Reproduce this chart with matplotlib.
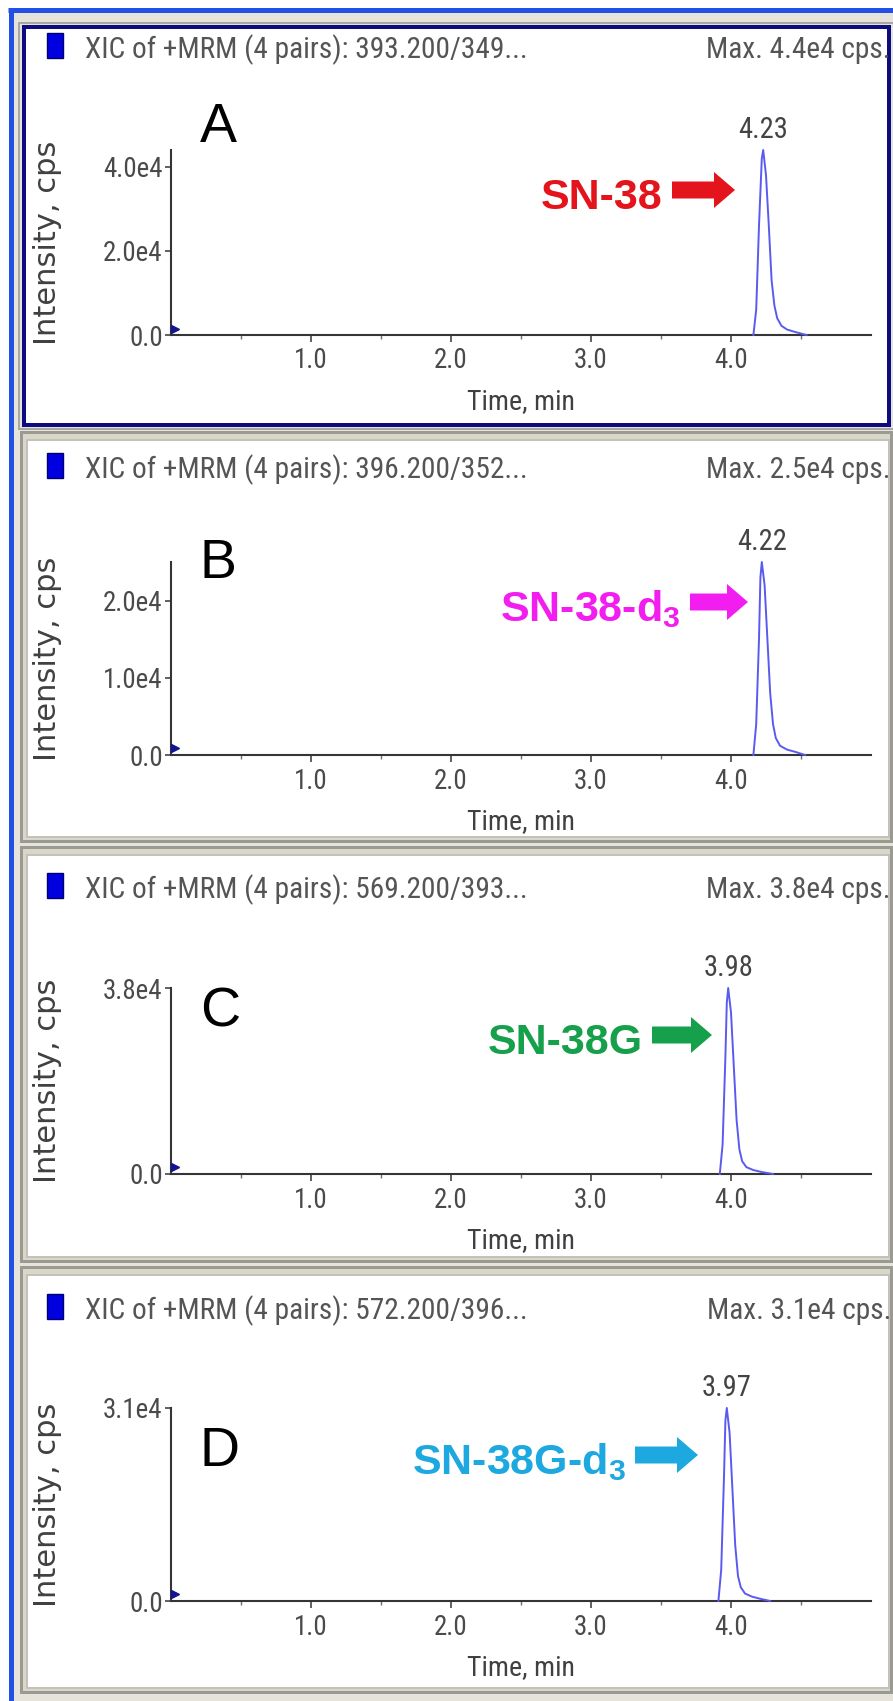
import matplotlib
matplotlib.use("Agg")
import matplotlib.pyplot as plt
from matplotlib.patches import Rectangle
from matplotlib.ticker import FixedLocator
from matplotlib import font_manager as fm

# ---------------- data ----------------
panel_letters = ["A", "B", "C", "D"]
headers = ["XIC of +MRM (4 pairs): 393.200/349...",
           "XIC of +MRM (4 pairs): 396.200/352...",
           "XIC of +MRM (4 pairs): 569.200/393...",
           "XIC of +MRM (4 pairs): 572.200/396..."]
max_labels = ["Max. 4.4e4 cps.", "Max. 2.5e4 cps.", "Max. 3.8e4 cps.", "Max. 3.1e4 cps."]
compounds = ["SN-38", r"SN-38-d$_{\mathbf{3}}$", "SN-38G", r"SN-38G-d$_{\mathbf{3}}$"]
compound_colors = ["#e3141c", "#f21ef0", "#17a04c", "#1ea8e0"]
peak_rt = [4.23, 4.22, 3.98, 3.97]
peak_max = [4.4e4, 2.5e4, 3.8e4, 3.1e4]
yticks = [[0, 2.0e4, 4.0e4], [0, 1.0e4, 2.0e4], [0, 3.8e4], [0, 3.1e4]]
ytick_labels = [["0.0", "2.0e4", "4.0e4"], ["0.0", "1.0e4", "2.0e4"], ["0.0", "3.8e4"], ["0.0", "3.1e4"]]
xticks = [1.0, 2.0, 3.0, 4.0]
xtick_labels = ["1.0", "2.0", "3.0", "4.0"]
xminor = [0.5, 1.5, 2.5, 3.5, 4.5]

rt_A = [4.16, 4.18, 4.20, 4.22, 4.23, 4.25, 4.27, 4.29, 4.31, 4.33, 4.36, 4.40, 4.46, 4.54]
int_A = [0, 6e3, 2.6e4, 4.2e4, 4.4e4, 3.8e4, 2.6e4, 1.3e4, 7e3, 4e3, 2.2e3, 1.3e3, 700, 0]
rt_B = [4.16, 4.18, 4.20, 4.21, 4.22, 4.24, 4.26, 4.28, 4.30, 4.32, 4.35, 4.40, 4.46, 4.53]
int_B = [0, 4e3, 1.5e4, 2.3e4, 2.5e4, 2.2e4, 1.5e4, 8e3, 4e3, 2.2e3, 1.2e3, 700, 400, 0]
rt_C = [3.92, 3.94, 3.96, 3.97, 3.98, 4.00, 4.02, 4.04, 4.06, 4.08, 4.11, 4.16, 4.22, 4.30]
int_C = [0, 6e3, 2.4e4, 3.5e4, 3.8e4, 3.3e4, 2.2e4, 1.1e4, 5e3, 2.6e3, 1.4e3, 800, 400, 0]
rt_D = [3.91, 3.93, 3.95, 3.96, 3.97, 3.99, 4.01, 4.03, 4.05, 4.07, 4.10, 4.15, 4.21, 4.28]
int_D = [0, 5e3, 2.0e4, 2.9e4, 3.1e4, 2.7e4, 1.8e4, 9e3, 4e3, 2.2e3, 1.2e3, 700, 350, 0]
traces = [(rt_A, int_A), (rt_B, int_B), (rt_C, int_C), (rt_D, int_D)]

# ---------------- fonts ----------------
names = {f.name for f in fm.fontManager.ttflist}
narrow = None
for cand in ["Liberation Sans Narrow", "Arial Narrow", "Roboto Condensed",
             "Open Sans Condensed", "Noto Sans Condensed", "DejaVu Sans Condensed"]:
    if cand in names:
        narrow = cand
        break
NARROW = ([narrow] if narrow else []) + ["Liberation Sans", "DejaVu Sans"]
SANS = ["Liberation Sans", "DejaVu Sans"]
plt.rcParams['font.family'] = NARROW
plt.rcParams['mathtext.fontset'] = 'custom'
plt.rcParams['mathtext.rm'] = 'Liberation Sans'
plt.rcParams['mathtext.bf'] = 'Liberation Sans:bold'

# ---------------- layout (pixels) ----------------
W, H = 893, 1701
PT = 0.72  # points per pixel at dpi 100
panel_top = [27, 432, 847, 1267]
panel_bot = [425, 841, 1261, 1692]
header_y = [50, 470, 890, 1311]
ax_top = [150, 562, 988, 1408]
ax_bot = [335, 755, 1174, 1601]
ax_left, ax_right = 171, 871
letter_y = [128, 564, 1012, 1452]
label_y = [193, 605, 1038, 1458]
arrow_x = [(672, 735), (690, 748), (652, 712), (635, 698)]

fig = plt.figure(figsize=(W / 100, H / 100), dpi=100)
fig.patch.set_facecolor("white")
renderer = fig.canvas.get_renderer()


def fitted(s, family, target_px, base=20.0):
    t = fig.text(0, 0, s, fontsize=base, family=family)
    w = t.get_window_extent(renderer).width
    t.remove()
    return base * target_px / w


fs_header = min(fitted(headers[0], NARROW, 443), 26)
fs_tick = min(fitted("4.0e4", NARROW, 60), 24)
fs_time = min(fitted("Time, min", NARROW, 108), 24)
fs_peak = min(fitted("4.23", NARROW, 50), 25)
fs_ylab = fitted("Intensity, cps", ["DejaVu Sans"], 204)

bg = fig.add_axes([0, 0, 1, 1])
bg.set_xlim(0, W)
bg.set_ylim(H, 0)
bg.axis("off")

# window background and outer blue frame
bg.add_patch(Rectangle((13, 13), W, H, facecolor="#e6e4da", edgecolor="none", zorder=0))
bg.plot([10.5, 10.5], [8, H + 5], color="#2050e6", lw=5 * PT, solid_capstyle="butt", zorder=1)
bg.plot([8, W + 5], [10, 10], color="#2050e6", lw=5 * PT, solid_capstyle="butt", zorder=1)

for i in range(4):
    t, b = panel_top[i], panel_bot[i]
    if i == 0:
        bg.add_patch(Rectangle((19, t - 4), 875, b - t + 8, facecolor="none",
                               edgecolor="#a8a8a0", lw=2 * PT, zorder=1))
        bg.add_patch(Rectangle((24, t), 865, b - t, facecolor="white",
                               edgecolor="#0c0c80", lw=4 * PT, zorder=2))
    else:
        bg.add_patch(Rectangle((21, t), 870, b - t, facecolor="#d9d6ca",
                               edgecolor="#9a9a92", lw=3 * PT, zorder=1))
        bg.add_patch(Rectangle((27, t + 8), 862, b - t - 12, facecolor="white",
                               edgecolor="#c4c2b8", lw=2 * PT, zorder=2))

    hy = header_y[i]
    bg.add_patch(Rectangle((47, hy - 17), 16, 25, facecolor="#0000e0",
                           edgecolor="#000070", lw=1, zorder=3))
    bg.text(85, hy, headers[i], fontsize=fs_header, color="#555555", ha="left",
            va="center", zorder=4)
    bg.text(891, hy, max_labels[i], fontsize=fs_header, color="#555555", ha="right",
            va="center", zorder=4)

    # panel letter
    bg.text(200, letter_y[i], panel_letters[i], fontsize=40, family=SANS,
            color="black", ha="left", va="center", zorder=4)

    # compound label and block arrow
    x0, x1 = arrow_x[i]
    yy = label_y[i]
    bg.text(x0 - 9, yy + 16, compounds[i], fontsize=31, fontweight="bold",
            family=SANS, color=compound_colors[i],
            ha="right", va="baseline", zorder=4)
    bg.arrow(x0, yy - 3, x1 - x0, 0, width=17, head_width=36, head_length=21,
             length_includes_head=True, color=compound_colors[i], lw=0, zorder=4)

    # chromatogram axes
    ax = fig.add_axes([ax_left / W, 1 - ax_bot[i] / H,
                       (ax_right - ax_left) / W, (ax_bot[i] - ax_top[i]) / H])
    ax.patch.set_visible(False)
    rt, inten = traces[i]
    ax.plot(rt, inten, color="#5a5af0", lw=1.4, clip_on=False, zorder=3)
    ax.set_xlim(0, 5.0)
    ax.set_ylim(0, peak_max[i])
    for s in ("top", "right"):
        ax.spines[s].set_visible(False)
    for s in ("left", "bottom"):
        ax.spines[s].set_color("#353535")
        ax.spines[s].set_linewidth(1.5)
    ax.set_xticks(xticks)
    ax.set_xticklabels(xtick_labels)
    ax.xaxis.set_minor_locator(FixedLocator(xminor))
    ax.set_yticks(yticks[i])
    ax.set_yticklabels(ytick_labels[i])
    ax.tick_params(axis="x", which="major", length=5, width=1.2, color="#454545",
                   labelsize=fs_tick, labelcolor="#4a4a4a", pad=4)
    ax.tick_params(axis="x", which="minor", length=3, width=1.0, color="#707070")
    ax.tick_params(axis="y", which="major", length=4, width=1.2, color="#454545",
                   labelsize=fs_tick, labelcolor="#4a4a4a", pad=2)
    ax.set_xlabel("Time, min", fontsize=fs_time, color="#404040", va="center")
    ax.xaxis.set_label_coords(0.5, -67 / (ax_bot[i] - ax_top[i]))
    ax.set_ylabel("Intensity, cps", fontsize=fs_ylab, color="#404040", va="center",
                  family=["DejaVu Sans"])
    ax.yaxis.set_label_coords((47 - ax_left) / (ax_right - ax_left), 0.5)
    ax.annotate(f"{peak_rt[i]:.2f}", xy=(peak_rt[i], peak_max[i]),
                xytext=(0, 20 * PT), textcoords="offset points",
                ha="center", va="center", fontsize=fs_peak, color="#444444",
                annotation_clip=False)
    ax.plot([0.025], [peak_max[i] * 0.035], marker=">", color="#141490",
            ms=6, clip_on=False, zorder=4)

fig.savefig("out.png", dpi=100, facecolor="white")
